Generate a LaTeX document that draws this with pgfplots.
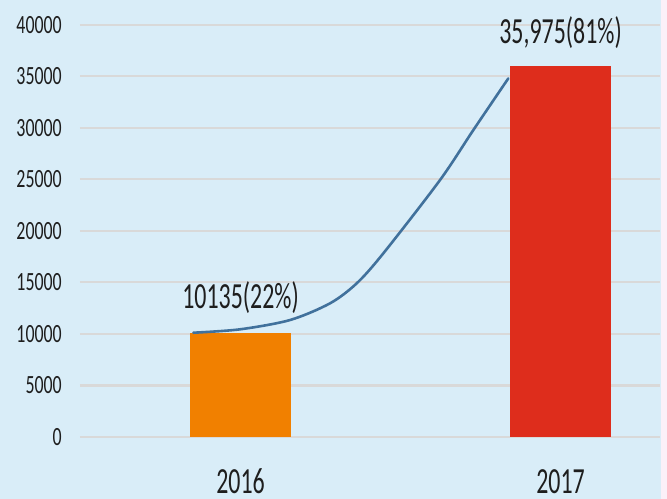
\documentclass[border=0pt]{standalone}
\usepackage{pgfplots}
\pgfplotsset{compat=1.18}
\usepackage{fontspec}
\setmainfont{Carlito}
\newfontfamily\tickfont[FakeStretch=0.68]{Carlito}
\newfontfamily\lblfont[FakeStretch=0.65]{Carlito}
\definecolor{bgblue}{RGB}{217,237,248}
\definecolor{bgpink}{RGB}{251,240,248}
\definecolor{gridgray}{RGB}{217,217,217}
\definecolor{barorange}{RGB}{241,128,0}
\definecolor{barred}{RGB}{222,45,28}
\definecolor{linblue}{RGB}{65,113,156}
\definecolor{txt}{RGB}{30,30,30}
\begin{document}
\begin{tikzpicture}
\path[use as bounding box] (0,0) rectangle (667bp,499bp);
\fill[bgblue] (0,0) rectangle (661bp,499bp);
\fill[bgpink] (661bp,0) rectangle (667bp,499bp);
\begin{axis}[
  at={(80bp,62bp)}, anchor=south west,
  scale only axis, width=580bp, height=412.3bp,
  xmin=-0.5016, xmax=1.3109,
  ymin=0, ymax=40000,
  clip=false,
  axis line style={draw=none},
  major tick length=0pt,
  ymajorgrids, grid style={gridgray, line width=2.2bp},
  ytick={0,5000,...,40000},
  scaled y ticks=false,
  /pgf/number format/1000 sep={},
  /pgf/number format/assume math mode=true,
  xtick={0,1}, xticklabels={2016,2017},
  yticklabel style={anchor=east, inner sep=0pt, xshift=-18bp, text=txt,
    font=\tickfont\fontsize{26.3bp}{30bp}\selectfont},
  xticklabel style={anchor=base, inner sep=0pt, yshift=-56bp, text=txt,
    font=\lblfont\fontsize{36.8bp}{40bp}\selectfont},
]
\addplot[ybar, bar width=101bp, bar shift=0pt, fill=barorange, draw=none] coordinates {(0,10135)};
\addplot[ybar, bar width=101bp, bar shift=0pt, fill=barred, draw=none] coordinates {(1,35975)};
\addplot[smooth, linblue, line width=2.6bp, line cap=round] coordinates {
  (-0.1475,10116) (-0.0016,10446) (0.1547,11348) (0.2797,12968) (0.3631,14908)
  (0.4463,17818) (0.6234,24927) (0.7275,29777) (0.8369,34791)};
\node[anchor=base, inner sep=0pt, text=txt, font=\lblfont\fontsize{36.8bp}{40bp}\selectfont]
  at (axis cs:0,10135) [yshift=24.5bp] {10135(22\%)};
\node[anchor=base, inner sep=0pt, text=txt, font=\lblfont\fontsize{36.8bp}{40bp}\selectfont]
  at (axis cs:1,35975) [yshift=22.5bp] {35,975(81\%)};
\end{axis}
\end{tikzpicture}
\end{document}
